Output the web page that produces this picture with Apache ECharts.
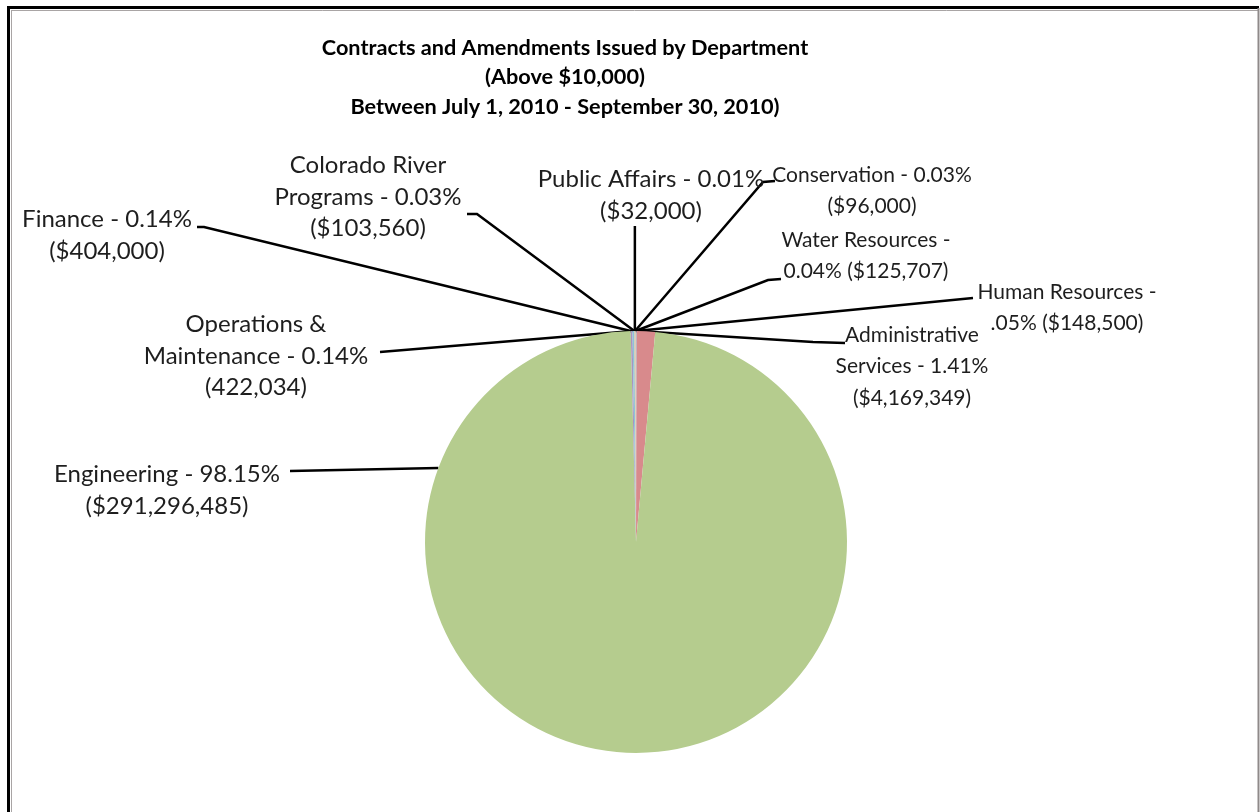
<!DOCTYPE html>
<html><head><meta charset="utf-8">
<script src="https://cdn.jsdelivr.net/npm/echarts@6/dist/echarts.min.js"></script>
<style>html,body{margin:0;padding:0;background:#fff}#c{width:1260px;height:812px}</style>
</head><body><div id="c"></div>
<script>
// ---- data ----
const departments = ['Human Resources', 'Administrative Services', 'Engineering', 'Finance',
  'Operations & Maintenance', 'Colorado River Programs', 'Public Affairs', 'Conservation', 'Water Resources'];
const amounts = [148500, 4169349, 291296485, 404000, 422034, 103560, 32000, 96000, 125707];
const labelTexts = [
  'Human Resources -\n.05% ($148,500)',
  'Administrative\nServices - 1.41%\n($4,169,349)',
  'Engineering - 98.15%\n($291,296,485)',
  'Finance - 0.14%\n($404,000)',
  'Operations &\nMaintenance - 0.14%\n(422,034)',
  'Colorado River\nPrograms - 0.03%\n($103,560)',
  'Public Affairs - 0.01%\n($32,000)',
  'Conservation - 0.03%\n($96,000)',
  'Water Resources -\n0.04% ($125,707)'
];
const titleLines = ['Contracts and Amendments Issued by Department', '(Above $10,000)',
  'Between July 1, 2010 - September 30, 2010)'];

// ---- styling / layout ----
const sliceColors = ['#8eaad3', '#d88a8c', '#b5cc8e', '#a695c2', '#8cc6d8', '#f3b886', '#9fb4d6', '#d99a9b', '#c3d6a2'];
// label block centre x, top y, font size; leader line points after the slice anchor (null x = anchor x)
const labelPlacement = {
  'Finance': { x: 107, y: 204, fs: 24, line: [[204, 227], [197, 227]] },
  'Colorado River Programs': { x: 368, y: 150, fs: 24, line: [[477, 214], [467, 214]] },
  'Public Affairs': { x: 651, y: 164, fs: 24, line: [[null, 226]] },
  'Conservation': { x: 872, y: 159, fs: 21, line: [[763, 182], [775, 181]] },
  'Water Resources': { x: 866, y: 224, fs: 21, line: [[768, 280], [781, 279]] },
  'Human Resources': { x: 1067, y: 276, fs: 21, line: [[973, 298]] },
  'Administrative Services': { x: 912, y: 319, fs: 21, line: [[813, 342], [845, 343]] },
  'Operations & Maintenance': { x: 256, y: 309, fs: 24, line: [[380, 352]] },
  'Engineering': { x: 167, y: 459, fs: 24, edgeY: 468, line: [[290, 471]] }
};

const chart = echarts.init(document.getElementById('c'), null, { renderer: 'canvas' });

function labelLayout(p) {
  const pl = labelPlacement[departments[p.dataIndex]];
  let anchor = p.labelLinePoints ? p.labelLinePoints[0].slice() : [636, 331];
  try {
    const lay = chart.getModel().getSeriesByIndex(0).getData().getItemLayout(p.dataIndex);
    if (pl.edgeY != null) {
      const dy = pl.edgeY - lay.cy;
      anchor = [lay.cx - Math.sqrt(lay.r * lay.r - dy * dy), pl.edgeY];
    } else {
      anchor = [lay.cx + lay.r * Math.cos(lay.startAngle), lay.cy + lay.r * Math.sin(lay.startAngle)];
    }
  } catch (e) {}
  const pts = [anchor].concat(pl.line.map(q => [q[0] == null ? anchor[0] : q[0], q[1]]));
  return { x: pl.x, y: pl.y, align: 'center', verticalAlign: 'top', labelLinePoints: pts };
}

chart.setOption({
  animation: false,
  backgroundColor: '#fff',
  graphic: [
    { type: 'line', shape: { x1: 8.5, y1: 6, x2: 8.5, y2: 812 }, style: { stroke: '#000', lineWidth: 3 } },
    { type: 'line', shape: { x1: 7, y1: 7.5, x2: 1259, y2: 7.5 }, style: { stroke: '#000', lineWidth: 3 } },
    { type: 'line', shape: { x1: 11.5, y1: 10, x2: 11.5, y2: 812 }, style: { stroke: '#a9a5a5', lineWidth: 1 } },
    { type: 'line', shape: { x1: 11, y1: 10.5, x2: 1258, y2: 10.5 }, style: { stroke: '#a9a5a5', lineWidth: 1 } },
    { type: 'line', shape: { x1: 1258.5, y1: 8, x2: 1258.5, y2: 812 }, style: { stroke: '#8f8a8a', lineWidth: 2 } },
    {
      type: 'text', x: 565, y: 33,
      style: {
        text: titleLines.join('\n'), align: 'center', verticalAlign: 'top',
        fontFamily: 'Lato', fontWeight: 'bold', fontSize: 21.7, lineHeight: 29.5, fill: '#000'
      }
    }
  ],
  series: [{
    type: 'pie',
    center: [636, 542],
    radius: 211,
    startAngle: 90,
    clockwise: true,
    avoidLabelOverlap: false,
    silent: true,
    color: sliceColors,
    itemStyle: { borderWidth: 0 },
    data: departments.map((n, i) => ({
      name: n, value: amounts[i],
      label: { fontSize: labelPlacement[n].fs }
    })),
    label: {
      show: true, position: 'outside',
      formatter: p => labelTexts[p.dataIndex],
      fontFamily: 'Lato', fontSize: 24, lineHeight: 31.5, color: '#1e1e1e', align: 'center'
    },
    labelLine: { show: true, smooth: false, lineStyle: { color: '#000', width: 2.5 } },
    labelLayout: labelLayout
  }]
});
</script></body></html>
